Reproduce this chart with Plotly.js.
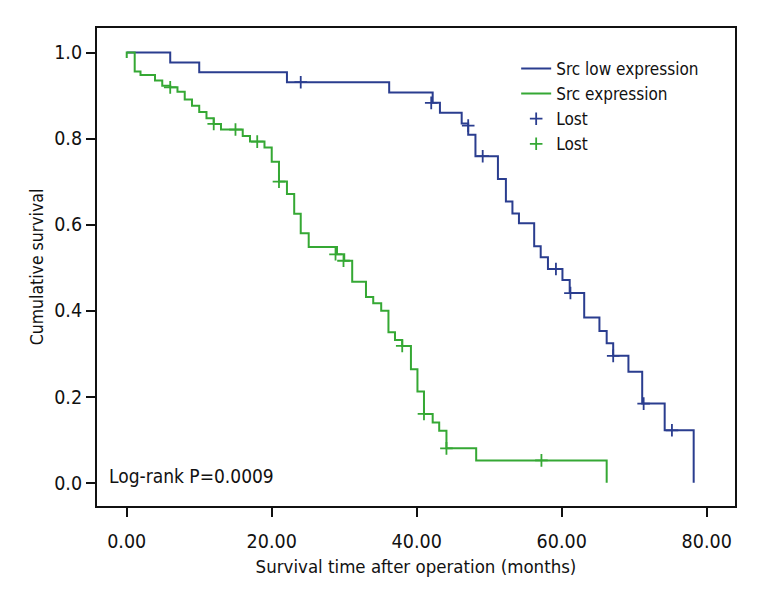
<!DOCTYPE html>
<html>
<head>
<meta charset="utf-8">
<script src="https://cdn.plot.ly/plotly-3.0.1.min.js"></script>
<style>html,body{margin:0;padding:0;background:#fff;}#chart{width:768px;height:600px;}</style>
</head>
<body>
<div id="chart"></div>
<script>
// Src low expression (blue) Kaplan-Meier steps
const lowTime = [0, 6.0, 10.0, 22.1, 36.2, 42.2, 43.2, 46.2, 47.1, 48.1, 51.2, 52.3, 53.2, 54.1, 56.2, 57.1, 58.1, 60.1, 61.1, 63.1, 65.2, 66.2, 67.1, 69.2, 71.1, 74.2, 78.2];
const lowSurv = [1.0, 0.977, 0.954, 0.931, 0.907, 0.883, 0.860, 0.835, 0.809, 0.759, 0.706, 0.654, 0.626, 0.603, 0.550, 0.524, 0.497, 0.471, 0.441, 0.384, 0.353, 0.324, 0.295, 0.258, 0.184, 0.122, 0.0];
const lowLostTime = [24.0, 42.0, 47.1, 49.1, 59.2, 61.2, 67.1, 71.3, 75.2];
const lowLostSurv = [0.931, 0.883, 0.830, 0.759, 0.497, 0.441, 0.295, 0.184, 0.122];

// Src expression (green) Kaplan-Meier steps
const expTime = [0, 0, 1.1, 1.9, 3.9, 4.9, 6.0, 7.0, 8.0, 9.0, 10.0, 11.0, 12.0, 13.0, 16.0, 17.0, 19.0, 20.0, 21.0, 22.1, 23.1, 24.0, 25.1, 29.0, 30.0, 31.1, 33.0, 34.0, 35.1, 36.1, 37.0, 38.0, 39.2, 40.1, 41.0, 42.2, 43.1, 44.1, 48.2, 66.2];
const expSurv = [0.987, 1.0, 0.956, 0.948, 0.935, 0.923, 0.919, 0.909, 0.891, 0.876, 0.862, 0.847, 0.834, 0.821, 0.806, 0.793, 0.779, 0.746, 0.700, 0.671, 0.625, 0.580, 0.548, 0.531, 0.516, 0.467, 0.432, 0.417, 0.400, 0.350, 0.332, 0.318, 0.264, 0.212, 0.160, 0.140, 0.121, 0.080, 0.052, 0.0];
const expLostTime = [6.0, 12.0, 15.0, 18.0, 21.0, 28.8, 29.9, 38.0, 41.0, 44.1, 57.2];
const expLostSurv = [0.919, 0.834, 0.821, 0.793, 0.700, 0.531, 0.516, 0.318, 0.160, 0.080, 0.052];

const seriesNames = ['Src low expression', 'Src expression', 'Lost', 'Lost'];
const xTicks = [0, 20, 40, 60, 80];
const yTicks = [0, 0.2, 0.4, 0.6, 0.8, 1.0];

const BLUE = '#2a3d8f';
const GREEN = '#35a834';
const FONT = '"Liberation Sans Narrow", "DejaVu Sans Condensed", "Arial Narrow", sans-serif';

const traces = [
  {x: lowTime, y: lowSurv, name: seriesNames[0], mode: 'lines', line: {shape: 'hv', color: BLUE, width: 2}},
  {x: expTime, y: expSurv, name: seriesNames[1], mode: 'lines', line: {shape: 'hv', color: GREEN, width: 2}},
  {x: lowLostTime, y: lowLostSurv, name: seriesNames[2], mode: 'markers',
   marker: {symbol: 'cross-thin', size: 9, color: BLUE, line: {color: BLUE, width: 1.8}}},
  {x: expLostTime, y: expLostSurv, name: seriesNames[3], mode: 'markers',
   marker: {symbol: 'cross-thin', size: 9, color: GREEN, line: {color: GREEN, width: 1.8}}}
];

const layout = {
  width: 768, height: 600,
  margin: {l: 97, r: 33, t: 28, b: 94},
  paper_bgcolor: '#fff', plot_bgcolor: '#fff',
  font: {family: FONT, size: 18, color: '#111'},
  showlegend: true,
  legend: {x: 0.657, y: 0.952, xanchor: 'left', yanchor: 'top', bgcolor: 'rgba(0,0,0,0)',
           font: {family: FONT, size: 17, color: '#111'}, tracegroupgap: 0, itemwidth: 30},
  xaxis: {
    range: [-4.1, 83.9], tickvals: xTicks, tickformat: '.2f',
    ticks: 'outside', ticklen: 9, tickwidth: 2, tickcolor: '#111',
    showline: true, linecolor: '#111', linewidth: 2, mirror: true,
    showgrid: false, zeroline: false, ticklabelstandoff: 8,
    tickfont: {family: FONT, size: 19.5, color: '#111'},
    title: {text: 'Survival time after operation (months)', font: {family: FONT, size: 18.5, color: '#111'}, standoff: 8}
  },
  yaxis: {
    range: [-0.054, 1.057], tickvals: yTicks, tickformat: '.1f',
    ticks: 'outside', ticklen: 9, tickwidth: 2, tickcolor: '#111',
    showline: true, linecolor: '#111', linewidth: 2, mirror: true,
    showgrid: false, zeroline: false,
    tickfont: {family: FONT, size: 19.5, color: '#111'},
    title: {text: 'Cumulative survival', font: {family: FONT, size: 17.5, color: '#111'}, standoff: 6}
  },
  annotations: [{
    text: 'Log-rank P=0.0009', xref: 'paper', yref: 'paper', x: 0.015, y: 0.063,
    xanchor: 'left', yanchor: 'middle', showarrow: false,
    font: {family: FONT, size: 19, color: '#111'}
  }]
};

Plotly.newPlot('chart', traces, layout, {displayModeBar: false, staticPlot: true});
</script>
</body>
</html>
